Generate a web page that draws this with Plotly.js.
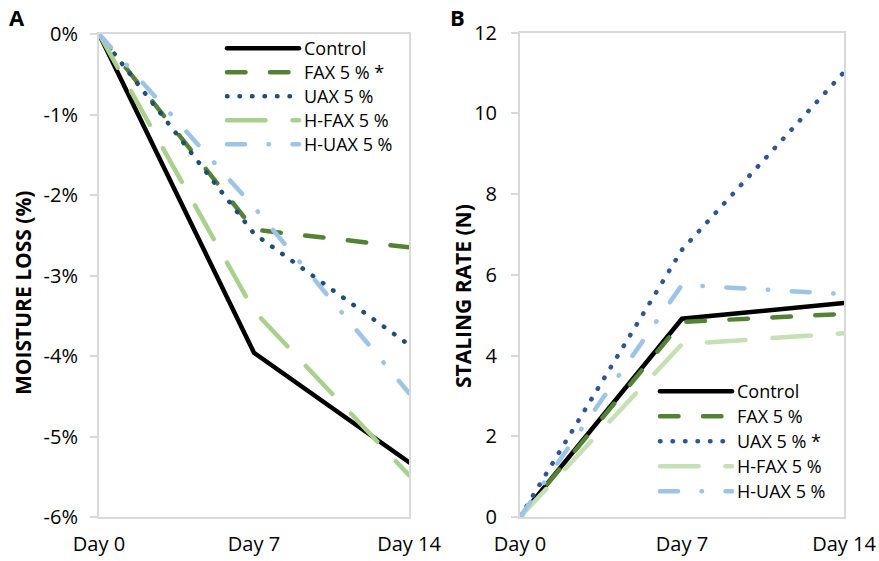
<!DOCTYPE html>
<html>
<head>
<meta charset="utf-8">
<script src="https://cdn.plot.ly/plotly-3.0.1.min.js"></script>
<style>
  html, body { margin: 0; padding: 0; background: #fff; }
  #chart { width: 879px; height: 561px; }
  .js-line { stroke-linecap: round; }
</style>
</head>
<body>
<div id="chart"></div>
<script>
// ---- Data ----
const days = ["Day 0", "Day 7", "Day 14"];

// Panel A: moisture loss (%)
const seriesNamesA = ["Control", "FAX 5 % *", "UAX 5 %", "H-FAX 5 %", "H-UAX 5 %"];
const controlA = [0, -3.96, -5.32];
const faxA     = [0, -2.43, -2.65];
const uaxA     = [0, -2.48, -3.86];
const hfaxA    = [0, -3.44, -5.48];
const huaxA    = [0, -2.15, -4.46];
const yTicksA  = [0, -1, -2, -3, -4, -5, -6];
const yLabelsA = ["0%", "-1%", "-2%", "-3%", "-4%", "-5%", "-6%"];

// Panel B: staling rate (N)
const seriesNamesB = ["Control", "FAX 5 %", "UAX 5 % *", "H-FAX 5 %", "H-UAX 5 %"];
const controlB = [0, 4.91, 5.30];
const faxB     = [0, 4.83, 5.03];
const uaxB     = [0, 6.62, 11.02];
const hfaxB    = [0, 4.28, 4.55];
const huaxB    = [0, 5.75, 5.52];
const yTicksB  = [0, 2, 4, 6, 8, 10, 12];

// ---- Styles ----
const W = 4.5;
const dashFAX  = "18.5px,24.5px";
const dashUAX  = "0.5px,12px";
const dashHFAX = "38.5px,27px";
const dashHUAX = "18px,23.5px,0.5px,23.5px";

const stylesA = [
  {color: "#000000", dash: "solid"},
  {color: "#548235", dash: dashFAX},
  {color: "#1F4E79", dash: dashUAX},
  {color: "#A9D18E", dash: dashHFAX},
  {color: "#9DC3E6", dash: dashHUAX}
];
const stylesB = [
  {color: "#000000", dash: "solid"},
  {color: "#548235", dash: dashFAX},
  {color: "#2F5597", dash: dashUAX},
  {color: "#C5E0B4", dash: dashHFAX},
  {color: "#9DC3E6", dash: dashHUAX}
];

const valuesA = [controlA, faxA, uaxA, hfaxA, huaxA];
const valuesB = [controlB, faxB, uaxB, hfaxB, huaxB];

const traces = [];
valuesA.forEach((v, i) => traces.push({
  type: "scatter", mode: "lines", x: days, y: v, name: seriesNamesA[i],
  xaxis: "x", yaxis: "y", legend: "legend",
  line: {color: stylesA[i].color, dash: stylesA[i].dash, width: W}
}));
valuesB.forEach((v, i) => traces.push({
  type: "scatter", mode: "lines", x: days, y: v, name: seriesNamesB[i],
  xaxis: "x2", yaxis: "y2", legend: "legend2",
  line: {color: stylesB[i].color, dash: stylesB[i].dash, width: W}
}));

const FW = 879, FH = 561;
const fam = "'Open Sans', 'Noto Sans', sans-serif";
const tickFont = {family: fam, size: 20, color: "#000"};
const legFont = {family: fam, size: 18, color: "#000"};
const axisLine = {showline: true, mirror: true, linecolor: "#d9d9d9", linewidth: 2,
                  showgrid: false, zeroline: false};

const layout = {
  width: FW, height: FH,
  margin: {l: 0, r: 0, t: 0, b: 0},
  paper_bgcolor: "#fff", plot_bgcolor: "#fff",
  font: tickFont,
  showlegend: true,
  xaxis: Object.assign({}, axisLine, {
    domain: [99 / FW, 409 / FW], anchor: "y", type: "category",
    range: [0, days.length - 1], ticks: "", tickfont: tickFont, ticklabelstandoff: 8
  }),
  yaxis: Object.assign({}, axisLine, {
    domain: [(FH - 517) / FH, (FH - 34) / FH], anchor: "x",
    range: [-6, 0], tickvals: yTicksA, ticktext: yLabelsA,
    ticks: "outside", ticklen: 7, tickwidth: 2, tickcolor: "#d9d9d9",
    tickfont: tickFont, ticklabelstandoff: 8
  }),
  xaxis2: Object.assign({}, axisLine, {
    domain: [520 / FW, 844 / FW], anchor: "y2", type: "category",
    range: [0, days.length - 1], ticks: "", tickfont: tickFont, ticklabelstandoff: 8
  }),
  yaxis2: Object.assign({}, axisLine, {
    domain: [(FH - 517) / FH, (FH - 32.5) / FH], anchor: "x2",
    range: [0, 12], tickvals: yTicksB,
    ticks: "outside", ticklen: 7, tickwidth: 2, tickcolor: "#d9d9d9",
    tickfont: tickFont, ticklabelstandoff: 10
  }),
  legend: {
    x: 222 / FW, y: (FH - 30) / FH, xanchor: "left", yanchor: "top",
    bgcolor: "rgba(0,0,0,0)", font: legFont, itemwidth: 72, tracegroupgap: 0
  },
  legend2: {
    x: 655 / FW, y: (FH - 373) / FH, xanchor: "left", yanchor: "top",
    bgcolor: "rgba(0,0,0,0)", font: legFont, itemwidth: 72, tracegroupgap: 0
  },
  annotations: [
    {text: "<b>A</b>", xref: "paper", yref: "paper", x: 17 / FW, y: (FH - 17) / FH,
     xanchor: "center", yanchor: "middle",
     showarrow: false, font: {family: fam, size: 22, color: "#000"}},
    {text: "<b>B</b>", xref: "paper", yref: "paper", x: 457 / FW, y: (FH - 17) / FH,
     xanchor: "center", yanchor: "middle",
     showarrow: false, font: {family: fam, size: 22, color: "#000"}},
    {text: "<b>MOISTURE LOSS (%)</b>", xref: "paper", yref: "paper", x: 23 / FW, y: (FH - 293) / FH,
     xanchor: "center", yanchor: "middle",
     textangle: -90, showarrow: false, font: {family: fam, size: 21, color: "#000"}},
    {text: "<b>STALING RATE (N)</b>", xref: "paper", yref: "paper", x: 463 / FW, y: (FH - 296) / FH,
     xanchor: "center", yanchor: "middle",
     textangle: -90, showarrow: false, font: {family: fam, size: 21, color: "#000"}}
  ]
};

// Legend row spacing as in the reference
const legendSpacing = {legend: 24, legend2: 25};

Plotly.newPlot("chart", traces, layout, {staticPlot: true, displayModeBar: false}).then(gd => {
  Object.keys(legendSpacing).forEach(name => {
    const g = gd.querySelector("g." + name);
    if (!g) return;
    const items = g.querySelectorAll("g.traces");
    let y0 = null;
    items.forEach((it, i) => {
      const tr = it.getAttribute("transform") || "";
      const m = tr.match(/translate\(\s*([-\d.]+)[ ,]+([-\d.]+)\s*\)/);
      if (!m) return;
      if (y0 === null) { y0 = parseFloat(m[2]); }
      it.setAttribute("transform", "translate(" + parseFloat(m[1]) + "," + (y0 + i * legendSpacing[name]) + ")");
    });
  });
});
</script>
</body>
</html>
